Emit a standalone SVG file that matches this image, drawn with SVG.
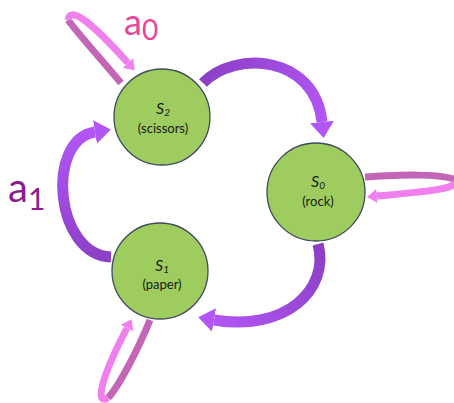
<svg xmlns="http://www.w3.org/2000/svg" width="454" height="403" viewBox="0 0 454 403">
<style>
.node circle{fill:#9fcc5e;stroke:#3f4b5e;stroke-width:1.3}
.lbl{font-family:Lato,"Open Sans","Liberation Sans",sans-serif;fill:#1a1a1a;text-anchor:middle}
.s{font-size:16px;font-style:italic}
.sub{font-size:10px;font-style:italic}
.cap{font-size:13px}
.arc{fill:none;stroke-width:11;stroke-linecap:butt}
.loopd{fill:none;stroke:#c466b8;stroke-width:7}
.loopl{fill:none;stroke:#ef80ee;stroke-width:7}
.act{font-family:Lato,"Open Sans","Liberation Sans",sans-serif}
</style>
<defs>
<marker id="hp" markerUnits="userSpaceOnUse" markerWidth="18" markerHeight="26" refX="0" refY="13" orient="auto" viewBox="0 0 18 26">
<path d="M0,1 L16,13 L0,25 Z" fill="#b155f4"/>
</marker>
<marker id="hk" markerUnits="userSpaceOnUse" markerWidth="12" markerHeight="16" refX="0" refY="8" orient="auto" viewBox="0 0 12 16">
<path d="M0,1 L10,8 L0,15 Z" fill="#ef80ee"/>
</marker>
<linearGradient id="g1" gradientUnits="userSpaceOnUse" x1="203" y1="83" x2="322" y2="122">
<stop offset="0" stop-color="#8c40c6"/><stop offset="1" stop-color="#b155f4"/>
</linearGradient>
<linearGradient id="g2" gradientUnits="userSpaceOnUse" x1="318" y1="244" x2="214" y2="320">
<stop offset="0" stop-color="#8c40c6"/><stop offset="1" stop-color="#b155f4"/>
</linearGradient>
<linearGradient id="g3" gradientUnits="userSpaceOnUse" x1="111" y1="257" x2="95" y2="132">
<stop offset="0" stop-color="#8c40c6"/><stop offset="1" stop-color="#b155f4"/>
</linearGradient>
</defs>
<g id="connectors">
<path class="arc" stroke="url(#g1)" d="M203 83 C235 50, 315 55, 322 122" marker-end="url(#hp)"/>
<path class="arc" stroke="url(#g2)" d="M318 244 C330 290, 285 332, 214 320" marker-end="url(#hp)"/>
<path class="arc" stroke="url(#g3)" d="M111 257 C55 255, 45 140, 95 132" marker-end="url(#hp)"/>
<path class="loopd" d="M121 83 C100 58, 80 36, 68 20"/>
<path class="loopl" d="M68 20 C70 8, 85 15, 128 63" marker-end="url(#hk)"/>
<path class="loopd" d="M365 177 C400 175, 440 173, 456 180"/>
<path class="loopl" d="M456 180 C458 190, 420 192, 377 196" marker-end="url(#hk)"/>
<path class="loopd" d="M150 320 C140 345, 120 385, 108 398"/>
<path class="loopl" d="M108 398 C95 405, 100 380, 127 328" marker-end="url(#hk)"/>
</g>
<g id="S2" class="node">
<circle cx="162" cy="117" r="48"/>
<text class="lbl" x="163" y="114"><tspan class="s">S</tspan><tspan class="sub" dy="2">2</tspan></text>
<text class="lbl cap" x="163" y="133">(scissors)</text>
</g>
<g id="S0" class="node">
<circle cx="316" cy="192" r="49"/>
<text class="lbl" x="318" y="187"><tspan class="s">S</tspan><tspan class="sub" dy="2">0</tspan></text>
<text class="lbl cap" x="318" y="206">(rock)</text>
</g>
<g id="S1" class="node">
<circle cx="160" cy="271" r="48"/>
<text class="lbl" x="162" y="271"><tspan class="s">S</tspan><tspan class="sub" dy="2">1</tspan></text>
<text class="lbl cap" x="162" y="289">(paper)</text>
</g>
<g id="a0">
<text class="act" x="124" y="35" fill="#e8449a" font-size="36">a<tspan font-size="28" dy="5">0</tspan></text>
</g>
<g id="a1">
<text class="act" x="8" y="202" fill="#8b1c8b" font-size="40">a<tspan font-size="30" dy="8">1</tspan></text>
</g>
</svg>
